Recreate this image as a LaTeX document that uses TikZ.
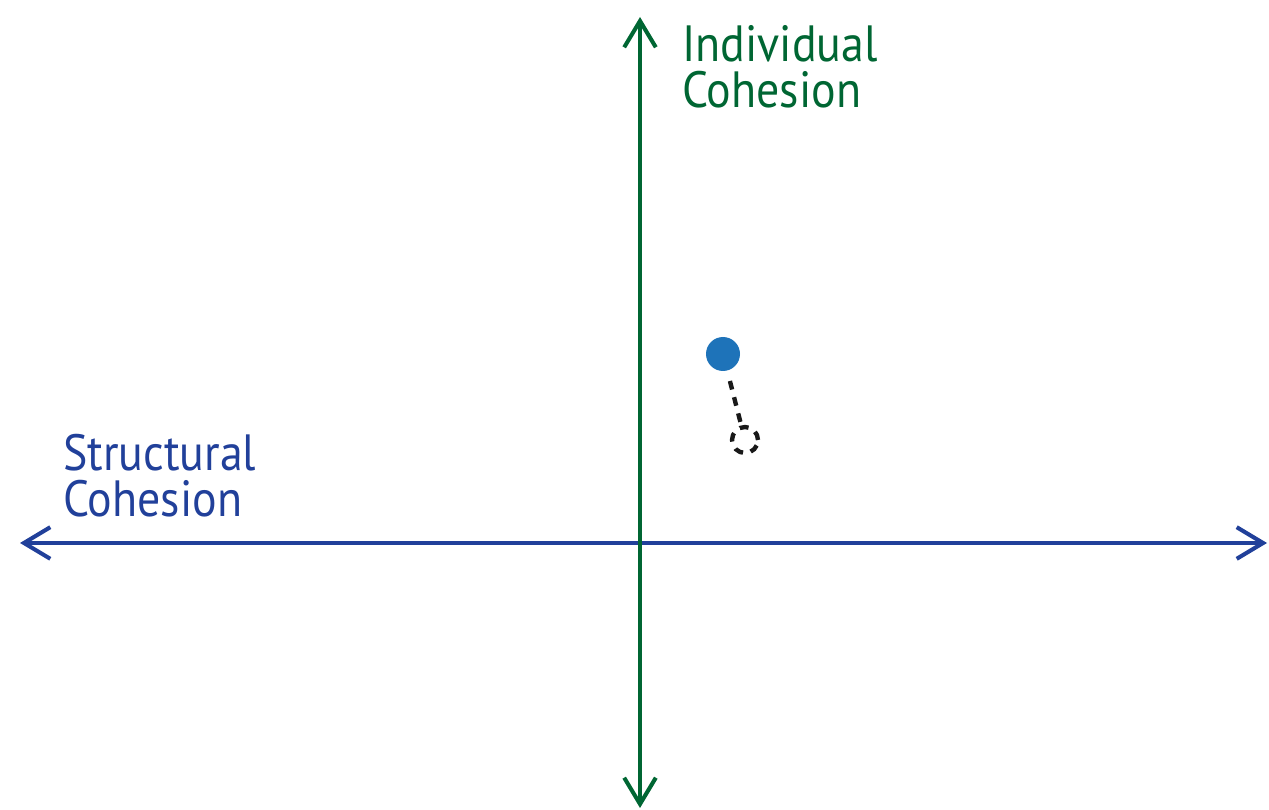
\documentclass[tikz,border=0pt]{standalone}
\usepackage{fontspec}
\setmainfont[FakeStretch=0.9]{PT Sans}
\usetikzlibrary{arrows.meta}

\definecolor{axisgreen}{RGB}{0,102,51}
\definecolor{axisblue}{RGB}{33,64,154}
\definecolor{dotblue}{RGB}{30,115,185}

\begin{document}
\begin{tikzpicture}[x=0.02cm, y=-0.02cm, >={Straight Barb[length=15pt, width=18pt, line width=2.3pt]}]
            \tikzset{axisline/.style={<->, line width=2.3pt},
                     axislabel/.style={align=left, inner sep=0pt, anchor=base west, font=\fontsize{29}{26.7}\selectfont},
                     moved/.style={circle, draw, dash pattern=on 5pt off 4.5pt, line width=2.5pt, minimum size=0.52cm, inner sep=0pt}}
            \useasboundingbox (0,0) rectangle (1269,810);
            \coordinate (west) at (20,543);
            \coordinate (east) at (1267,543);
            \coordinate (north) at (640,17);
            \coordinate (south) at (640,808);
            \draw[axisline, axisblue] (west) -- (east);
            \draw[axisline, axisgreen] (south) -- (north);
            \node[axislabel, text=axisgreen] (ylabel) at (682,108) {Individual\\Cohesion};
            \node[axislabel, text=axisblue] (xlabel) at (63,517) {Structural\\Cohesion};
            \node[circle, fill=dotblue, minimum size=0.68cm, inner sep=0pt] (now) at (723,354) {};
            \node[moved, black!90] (then) at (745,440) {};
            \draw[black!90, line width=2.5pt, dash pattern=on 5pt off 4.5pt, shorten <=6pt, shorten >=1pt] (now) -- (then);
        \end{tikzpicture}
\end{document}
